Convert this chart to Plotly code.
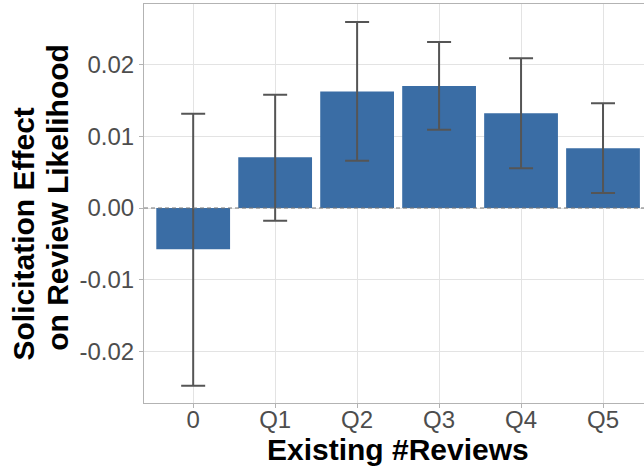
import plotly.graph_objects as go

categories = ["0", "Q1", "Q2", "Q3", "Q4", "Q5"]
effect = [-0.00576, 0.00707, 0.01622, 0.01702, 0.01321, 0.00833]
ci_upper = [0.01315, 0.0158, 0.02594, 0.02315, 0.02088, 0.0146]
ci_lower = [-0.02478, -0.00177, 0.0066, 0.01092, 0.00553, 0.00209]
y_ticks = [-0.02, -0.01, 0.0, 0.01, 0.02]
y_tick_labels = ["-0.02", "-0.01", "0.00", "0.01", "0.02"]

err_plus = [u - e for u, e in zip(ci_upper, effect)]
err_minus = [e - l for l, e in zip(ci_lower, effect)]

FONT = "Liberation Sans, Arial, Helvetica, sans-serif"

fig = go.Figure()
fig.add_trace(go.Bar(
    x=list(range(len(categories))),
    y=effect,
    width=0.9,
    marker=dict(color="#3A6DA5", line=dict(width=0)),
    error_y=dict(type="data", symmetric=False, array=err_plus, arrayminus=err_minus,
                 color="#555555", thickness=2, width=12),
    showlegend=False,
))

fig.add_shape(type="line", xref="paper", yref="y", x0=0, x1=1, y0=0, y1=0,
              line=dict(color="#777777", width=1.2, dash="4px,3px"), layer="above")

fig.update_layout(
    width=644, height=466,
    margin=dict(l=144, r=0, t=4, b=63, autoexpand=False),
    paper_bgcolor="white", plot_bgcolor="white",
    font=dict(family=FONT),
    bargap=0.1,
    xaxis=dict(
        range=[-0.6, 5.5],
        tickvals=list(range(len(categories))),
        ticktext=categories,
        tickfont=dict(size=24, color="#4D4D4D"),
        showgrid=True, gridcolor="#E3E3E3", gridwidth=1,
        zeroline=False,
        showline=True, linecolor="#B3B3B3", linewidth=1, mirror=True,
        ticks="outside", ticklen=4, tickcolor="#B3B3B3",
        ticklabelstandoff=-9,
        automargin=False,
    ),
    yaxis=dict(
        range=[-0.027178, 0.028432],
        tickvals=y_ticks,
        ticktext=y_tick_labels,
        tickfont=dict(size=24, color="#4D4D4D"),
        showgrid=True, gridcolor="#E3E3E3", gridwidth=1,
        zeroline=False,
        showline=True, linecolor="#B3B3B3", linewidth=1,
        ticks="outside", ticklen=4, tickcolor="#B3B3B3",
        automargin=False,
    ),
    annotations=[
        dict(text="<b>Existing #Reviews</b>", xref="paper", yref="paper",
             x=0.508, y=-0.117, xanchor="center", yanchor="middle", showarrow=False,
             font=dict(size=30, color="black", family=FONT)),
        dict(text="<b>Solicitation Effect</b>", xref="paper", yref="paper",
             x=-0.24, y=0.4223, xanchor="center", yanchor="middle", showarrow=False,
             textangle=-90,
             font=dict(size=30, color="black", family=FONT)),
        dict(text="<b>on Review Likelihood</b>", xref="paper", yref="paper",
             x=-0.1734, y=0.515, xanchor="center", yanchor="middle", showarrow=False,
             textangle=-90,
             font=dict(size=30, color="black", family=FONT)),
    ],
)

fig.write_html("out.html", config={"displayModeBar": False},
               post_script="document.body.style.margin='0';document.body.style.overflow='hidden';")
